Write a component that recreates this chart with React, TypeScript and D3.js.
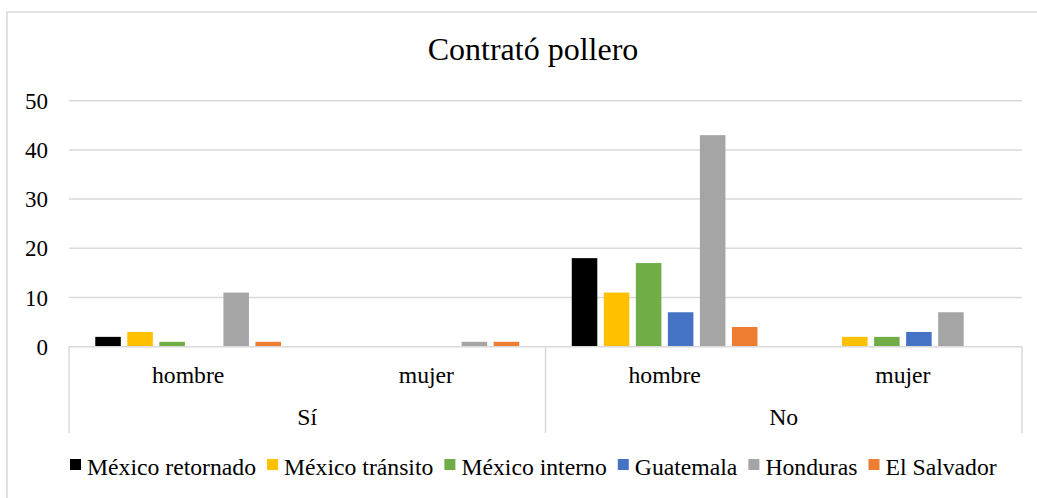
import React, { useEffect, useRef } from "react";
import * as d3 from "d3";

const title = "Contrató pollero";
const groups = ["Sí", "No"];
const subgroups = ["hombre", "mujer"];
const seriesNames = ["México retornado", "México tránsito", "México interno", "Guatemala", "Honduras", "El Salvador"];
const seriesColors = ["#000000", "#FFC000", "#70AD47", "#4472C4", "#A5A5A5", "#ED7D31"];
// values[series][group*2+subgroup] : Sí-hombre, Sí-mujer, No-hombre, No-mujer
const mexicoRetornado = [2, 0, 18, 0];
const mexicoTransito = [3, 0, 11, 2];
const mexicoInterno = [1, 0, 17, 2];
const guatemala = [0, 0, 7, 3];
const honduras = [11, 1, 43, 7];
const elSalvador = [1, 1, 4, 0];
const seriesValues = [mexicoRetornado, mexicoTransito, mexicoInterno, guatemala, honduras, elSalvador];
const yTicks = [0, 10, 20, 30, 40, 50];

const W = 1037;
const H = 498;
const FONT = "Liberation Serif";

export default function App() {
  const ref = useRef<SVGSVGElement>(null);
  useEffect(() => {
    const svg = d3.select(ref.current);
    svg.selectAll("*").remove();

    const left = 69, right = 1022, top = 100.7, bottom = 346.7;
    const grid = "#d9d9d9";

    svg.append("rect").attr("x", 0).attr("y", 0).attr("width", W).attr("height", H).attr("fill", "#fff");
    svg.append("rect").attr("x", 7).attr("y", 12).attr("width", W + 20).attr("height", H + 20)
      .attr("fill", "none").attr("stroke", grid).attr("stroke-width", 1.5);

    svg.append("text").attr("x", 533).attr("y", 60).attr("text-anchor", "middle")
      .style("font-family", FONT).attr("font-size", 32).attr("fill", "#000").text(title);

    const y = d3.scaleLinear().domain([0, 50]).range([bottom, top]);
    const xGroup = d3.scaleBand().domain(groups).range([left, right]);
    const xSub = d3.scaleBand().domain(subgroups).range([0, xGroup.bandwidth()]);
    const xSeries = d3.scaleBand().domain(seriesNames).range([0, xSub.bandwidth()])
      .paddingInner(0.203).paddingOuter(0.82);

    svg.append("g").selectAll("line").data(yTicks.filter((t) => t > 0)).join("line")
      .attr("x1", left).attr("x2", right).attr("y1", (d) => y(d)).attr("y2", (d) => y(d))
      .attr("stroke", grid).attr("stroke-width", 1.5);

    svg.append("g").selectAll("text").data(yTicks).join("text")
      .attr("x", 48).attr("y", (d) => y(d)).attr("dy", "0.35em").attr("text-anchor", "end")
      .style("font-family", FONT).attr("font-size", 23).attr("fill", "#000").text((d) => d);

    const bars: { x: number; v: number; c: string }[] = [];
    groups.forEach((g, gi) => {
      subgroups.forEach((s, si) => {
        seriesNames.forEach((n, ni) => {
          const v = seriesValues[ni][gi * 2 + si];
          bars.push({ x: (xGroup(g) as number) + (xSub(s) as number) + (xSeries(n) as number), v, c: seriesColors[ni] });
        });
      });
    });
    svg.append("g").selectAll("rect").data(bars.filter((b) => b.v > 0)).join("rect")
      .attr("x", (d) => d.x).attr("width", xSeries.bandwidth())
      .attr("y", (d) => y(d.v)).attr("height", (d) => y(0) - y(d.v))
      .attr("fill", (d) => d.c);

    svg.append("line").attr("x1", left).attr("x2", right).attr("y1", y(0)).attr("y2", y(0))
      .attr("stroke", grid).attr("stroke-width", 1.5);
    const seps = [left, ...groups.map((g) => (xGroup(g) as number) + xGroup.bandwidth())];
    svg.append("g").selectAll("line").data(seps).join("line")
      .attr("x1", (d) => d).attr("x2", (d) => d).attr("y1", y(0)).attr("y2", 433)
      .attr("stroke", grid).attr("stroke-width", 1.5);

    groups.forEach((g) => {
      subgroups.forEach((s) => {
        svg.append("text").attr("x", (xGroup(g) as number) + (xSub(s) as number) + xSub.bandwidth() / 2)
          .attr("y", 383).attr("text-anchor", "middle").style("font-family", FONT).attr("font-size", 23.7)
          .attr("fill", "#000").text(s);
      });
      svg.append("text").attr("x", (xGroup(g) as number) + xGroup.bandwidth() / 2)
        .attr("y", 425).attr("text-anchor", "middle").style("font-family", FONT).attr("font-size", 23.7)
        .attr("fill", "#000").text(g);
    });

    const lg = svg.append("g");
    let cx = 70;
    seriesNames.forEach((n, i) => {
      lg.append("rect").attr("x", cx).attr("y", 459).attr("width", 11).attr("height", 11).attr("fill", seriesColors[i]);
      const t = lg.append("text").attr("x", cx + 17).attr("y", 475).style("font-family", FONT)
        .attr("font-size", 23.7).attr("fill", "#000").text(n);
      const w = (t.node() as SVGTextElement).getComputedTextLength();
      cx += 17 + w + 11;
    });
  }, []);
  return (
    <svg ref={ref} width={W} height={H} style={{ position: "absolute", left: 0, top: 0 }} />
  );
}
